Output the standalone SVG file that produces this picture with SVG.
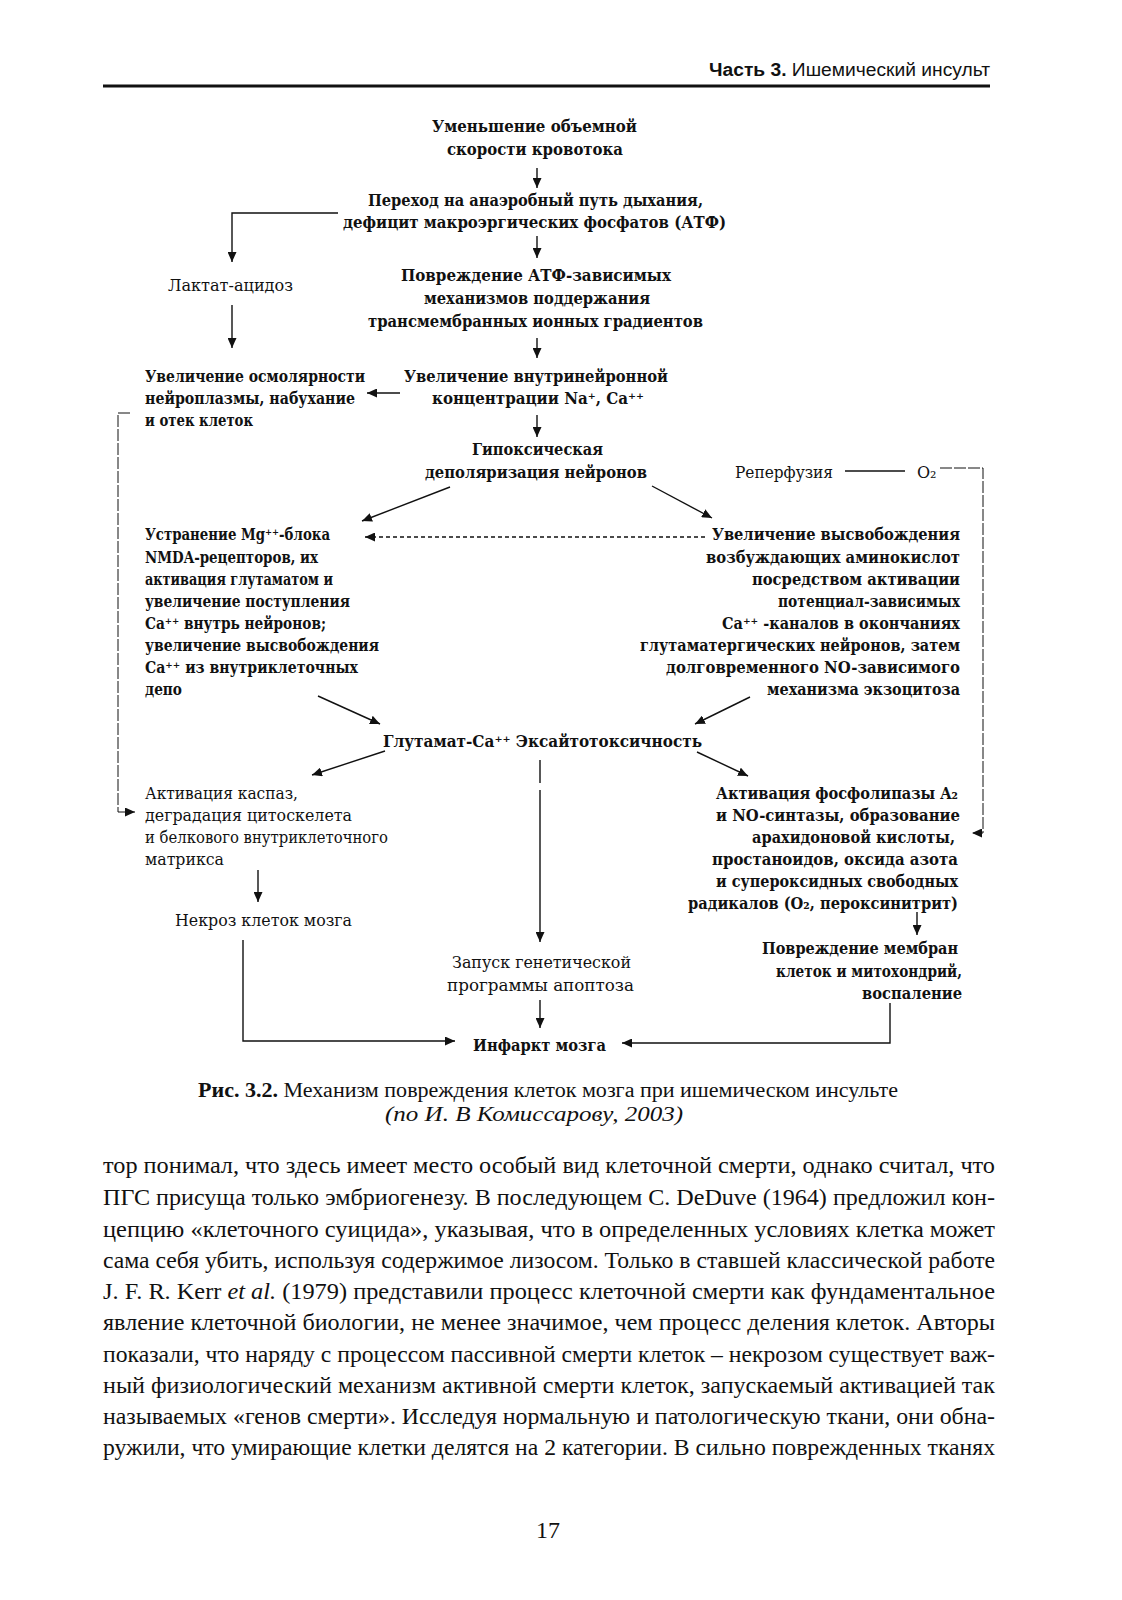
<svg xmlns="http://www.w3.org/2000/svg" width="1122" height="1600" viewBox="0 0 1122 1600">
<style>
text{fill:#111}
.d{font-family:"DejaVu Serif","Liberation Serif",serif;font-size:16px}
.b{font-weight:bold}
.r{font-weight:normal}
.body{font-family:"Liberation Serif","Times New Roman",serif;font-size:24px}
.cap{font-family:"Liberation Serif","Times New Roman",serif;font-size:20px}
.hdr{font-family:"Liberation Sans",Arial,sans-serif;font-size:18px}
.c{fill:none;stroke:#111;stroke-width:1.4}
.t{fill:none;stroke:#111;stroke-width:1}
.dash{stroke-dasharray:4 3}
.brk{stroke-dasharray:12 2}
</style>
<defs>
<marker id="ah" markerUnits="userSpaceOnUse" markerWidth="11" markerHeight="9" refX="10" refY="4.5" orient="auto">
<path d="M0,0 L10,4.5 L0,9 z" fill="#111"/>
</marker>
</defs>
<rect width="1122" height="1600" fill="#fff"/>

<g id="header">
<text class="hdr" x="709" y="76" textLength="281" lengthAdjust="spacingAndGlyphs"><tspan font-weight="bold">Часть 3.</tspan> Ишемический инсульт</text>
<rect x="103" y="84.5" width="887" height="3" fill="#111"/>
</g>

<g id="connectors">
<line class="c" x1="537" y1="168" x2="537" y2="188" marker-end="url(#ah)"/>
<line class="c" x1="537" y1="236" x2="537" y2="258" marker-end="url(#ah)"/>
<polyline class="c" points="338,213 232,213 232,262" marker-end="url(#ah)"/>
<line class="c" x1="232" y1="305" x2="232" y2="348" marker-end="url(#ah)"/>
<line class="c" x1="537" y1="338" x2="537" y2="358" marker-end="url(#ah)"/>
<line class="c" x1="400" y1="393" x2="367" y2="393" marker-end="url(#ah)"/>
<line class="c" x1="537" y1="415" x2="537" y2="437" marker-end="url(#ah)"/>
<line class="c" x1="450" y1="487" x2="362" y2="521" marker-end="url(#ah)"/>
<line class="c" x1="652" y1="486" x2="712" y2="518" marker-end="url(#ah)"/>
<line class="c dash" x1="705" y1="537" x2="365" y2="537" marker-end="url(#ah)"/>
<line class="c" x1="318" y1="696" x2="380" y2="724" marker-end="url(#ah)"/>
<line class="c" x1="750" y1="697" x2="695" y2="724" marker-end="url(#ah)"/>
<line class="c" x1="385" y1="751" x2="312" y2="775" marker-end="url(#ah)"/>
<line class="c" x1="540" y1="760" x2="540" y2="783"/>
<line class="c" x1="540" y1="790" x2="540" y2="942" marker-end="url(#ah)"/>
<line class="c" x1="697" y1="752" x2="748" y2="776" marker-end="url(#ah)"/>
<line class="c" x1="258" y1="870" x2="258" y2="902" marker-end="url(#ah)"/>
<line class="c" x1="917" y1="912" x2="917" y2="935" marker-end="url(#ah)"/>
<polyline class="c" points="243,940 243,1041 455,1041" marker-end="url(#ah)"/>
<polyline class="c" points="890,1003 890,1043 622,1043" marker-end="url(#ah)"/>
<line class="c" x1="540" y1="1000" x2="540" y2="1028" marker-end="url(#ah)"/>
<line class="c" x1="845" y1="471" x2="905" y2="471"/>
<polyline class="t brk" points="940,468 983,468 983,833 972,833" marker-end="url(#ah)"/>
<polyline class="t brk" points="130,413 118,413 118,812 135,812" marker-end="url(#ah)"/>
</g>

<g id="n1"><text class="d b" x="432" y="132" textLength="205" lengthAdjust="spacingAndGlyphs">Уменьшение объемной</text>
<text class="d b" x="447" y="155" textLength="176" lengthAdjust="spacingAndGlyphs">скорости кровотока</text></g>

<g id="n2"><text class="d b" x="368" y="206" textLength="335" lengthAdjust="spacingAndGlyphs">Переход на анаэробный путь дыхания,</text>
<text class="d b" x="343" y="228" textLength="383" lengthAdjust="spacingAndGlyphs">дефицит макроэргических фосфатов (АТФ)</text></g>

<g id="n3"><text class="d r" x="168" y="291" textLength="125" lengthAdjust="spacingAndGlyphs">Лактат-ацидоз</text></g>

<g id="n4"><text class="d b" x="401" y="281" textLength="270" lengthAdjust="spacingAndGlyphs">Повреждение АТФ-зависимых</text>
<text class="d b" x="424" y="304" textLength="226" lengthAdjust="spacingAndGlyphs">механизмов поддержания</text>
<text class="d b" x="368" y="327" textLength="335" lengthAdjust="spacingAndGlyphs">трансмембранных ионных градиентов</text></g>

<g id="n5"><text class="d b" x="145" y="382" textLength="220" lengthAdjust="spacingAndGlyphs">Увеличение осмолярности</text>
<text class="d b" x="145" y="404" textLength="210" lengthAdjust="spacingAndGlyphs">нейроплазмы, набухание</text>
<text class="d b" x="145" y="426" textLength="108" lengthAdjust="spacingAndGlyphs">и отек клеток</text></g>

<g id="n6"><text class="d b" x="404" y="382" textLength="264" lengthAdjust="spacingAndGlyphs">Увеличение внутринейронной</text>
<text class="d b" x="432" y="404" textLength="212" lengthAdjust="spacingAndGlyphs">концентрации Na⁺, Ca⁺⁺</text></g>

<g id="n7"><text class="d b" x="472" y="455" textLength="131" lengthAdjust="spacingAndGlyphs">Гипоксическая</text>
<text class="d b" x="425" y="478" textLength="222" lengthAdjust="spacingAndGlyphs">деполяризация нейронов</text></g>

<g id="n8"><text class="d r" x="735" y="478" textLength="98" lengthAdjust="spacingAndGlyphs">Реперфузия</text>
<text class="d r" x="917" y="478">O₂</text></g>

<g id="n9">
<text class="d b" x="145" y="540" textLength="185" lengthAdjust="spacingAndGlyphs">Устранение Mg⁺⁺-блока</text>
<text class="d b" x="145" y="563" textLength="173" lengthAdjust="spacingAndGlyphs">NMDA-рецепторов, их</text>
<text class="d b" x="145" y="585" textLength="188" lengthAdjust="spacingAndGlyphs">активация глутаматом и</text>
<text class="d b" x="145" y="607" textLength="205" lengthAdjust="spacingAndGlyphs">увеличение поступления</text>
<text class="d b" x="145" y="629" textLength="181" lengthAdjust="spacingAndGlyphs">Ca⁺⁺ внутрь нейронов;</text>
<text class="d b" x="145" y="651" textLength="234" lengthAdjust="spacingAndGlyphs">увеличение высвобождения</text>
<text class="d b" x="145" y="673" textLength="213" lengthAdjust="spacingAndGlyphs">Ca⁺⁺ из внутриклеточных</text>
<text class="d b" x="145" y="695" textLength="37" lengthAdjust="spacingAndGlyphs">депо</text>
</g>

<g id="n10">
<text class="d b" x="712" y="540" textLength="248" lengthAdjust="spacingAndGlyphs">Увеличение высвобождения</text>
<text class="d b" x="706" y="563" textLength="254" lengthAdjust="spacingAndGlyphs">возбуждающих аминокислот</text>
<text class="d b" x="752" y="585" textLength="208" lengthAdjust="spacingAndGlyphs">посредством активации</text>
<text class="d b" x="778" y="607" textLength="182" lengthAdjust="spacingAndGlyphs">потенциал-зависимых</text>
<text class="d b" x="722" y="629" textLength="238" lengthAdjust="spacingAndGlyphs">Ca⁺⁺ -каналов в окончаниях</text>
<text class="d b" x="640" y="651" textLength="320" lengthAdjust="spacingAndGlyphs">глутаматергических нейронов, затем</text>
<text class="d b" x="666" y="673" textLength="294" lengthAdjust="spacingAndGlyphs">долговременного NO-зависимого</text>
<text class="d b" x="767" y="695" textLength="193" lengthAdjust="spacingAndGlyphs">механизма экзоцитоза</text>
</g>

<g id="n11"><text class="d b" x="383" y="747" textLength="319" lengthAdjust="spacingAndGlyphs">Глутамат-Ca⁺⁺  Эксайтотоксичность</text></g>

<g id="n12">
<text class="d r" x="145" y="799" textLength="153" lengthAdjust="spacingAndGlyphs">Активация каспаз,</text>
<text class="d r" x="145" y="821" textLength="207" lengthAdjust="spacingAndGlyphs">деградация цитоскелета</text>
<text class="d r" x="145" y="843" textLength="243" lengthAdjust="spacingAndGlyphs">и белкового внутриклеточного</text>
<text class="d r" x="145" y="865" textLength="79" lengthAdjust="spacingAndGlyphs">матрикса</text>
</g>

<g id="n13"><text class="d r" x="175" y="926" textLength="177" lengthAdjust="spacingAndGlyphs">Некроз клеток мозга</text></g>

<g id="n14">
<text class="d b" x="716" y="799" textLength="242" lengthAdjust="spacingAndGlyphs">Активация фосфолипазы A₂</text>
<text class="d b" x="716" y="821" textLength="244" lengthAdjust="spacingAndGlyphs">и NO-синтазы, образование</text>
<text class="d b" x="752" y="843" textLength="203" lengthAdjust="spacingAndGlyphs">арахидоновой кислоты,</text>
<text class="d b" x="712" y="865" textLength="246" lengthAdjust="spacingAndGlyphs">простаноидов, оксида азота</text>
<text class="d b" x="716" y="887" textLength="242" lengthAdjust="spacingAndGlyphs">и супероксидных свободных</text>
<text class="d b" x="688" y="909" textLength="270" lengthAdjust="spacingAndGlyphs">радикалов (O₂, пероксинитрит)</text>
</g>

<g id="n15">
<text class="d b" x="762" y="954" textLength="196" lengthAdjust="spacingAndGlyphs">Повреждение мембран</text>
<text class="d b" x="776" y="977" textLength="186" lengthAdjust="spacingAndGlyphs">клеток и митохондрий,</text>
<text class="d b" x="862" y="999" textLength="100" lengthAdjust="spacingAndGlyphs">воспаление</text>
</g>

<g id="n16">
<text class="d r" x="452" y="968" textLength="179" lengthAdjust="spacingAndGlyphs">Запуск генетической</text>
<text class="d r" x="447" y="991" textLength="187" lengthAdjust="spacingAndGlyphs">программы апоптоза</text>
</g>

<g id="n17"><text class="d b" x="473" y="1051" textLength="133" lengthAdjust="spacingAndGlyphs">Инфаркт мозга</text></g>

<g id="caption">
<text class="cap" x="198" y="1097" textLength="700" lengthAdjust="spacingAndGlyphs"><tspan font-weight="bold">Рис. 3.2.</tspan> Механизм повреждения клеток мозга при ишемическом инсульте</text>
<text class="cap" x="385" y="1121" textLength="298" lengthAdjust="spacingAndGlyphs" font-style="italic">(по И. В  Комиссарову, 2003)</text>
</g>

<g id="bodytext">
<text class="body" x="103" y="1173" textLength="892" lengthAdjust="spacingAndGlyphs">тор понимал, что здесь имеет место особый вид клеточной смерти, однако считал, что</text>
<text class="body" x="103" y="1205" textLength="892" lengthAdjust="spacingAndGlyphs">ПГС присуща только эмбриогенезу. В последующем C. DeDuve (1964) предложил кон-</text>
<text class="body" x="103" y="1237" textLength="892" lengthAdjust="spacingAndGlyphs">цепцию «клеточного суицида», указывая, что в определенных условиях клетка может</text>
<text class="body" x="103" y="1268" textLength="892" lengthAdjust="spacingAndGlyphs">сама себя убить, используя содержимое лизосом. Только в ставшей классической работе</text>
<text class="body" x="103" y="1299" textLength="892" lengthAdjust="spacingAndGlyphs">J. F. R. Kerr <tspan font-style="italic">et al.</tspan> (1979) представили процесс клеточной смерти как фундаментальное</text>
<text class="body" x="103" y="1330" textLength="892" lengthAdjust="spacingAndGlyphs">явление клеточной биологии, не менее значимое, чем процесс деления клеток. Авторы</text>
<text class="body" x="103" y="1362" textLength="892" lengthAdjust="spacingAndGlyphs">показали, что наряду с процессом пассивной смерти клеток – некрозом существует важ-</text>
<text class="body" x="103" y="1393" textLength="892" lengthAdjust="spacingAndGlyphs">ный физиологический механизм активной смерти клеток, запускаемый активацией так</text>
<text class="body" x="103" y="1424" textLength="892" lengthAdjust="spacingAndGlyphs">называемых «генов смерти». Исследуя нормальную и патологическую ткани, они обна-</text>
<text class="body" x="103" y="1455" textLength="892" lengthAdjust="spacingAndGlyphs">ружили, что умирающие клетки делятся на 2 категории. В сильно поврежденных тканях</text>
</g>

<g id="pagenum"><text class="body" x="548" y="1538" text-anchor="middle" font-size="28">17</text></g>
</svg>
